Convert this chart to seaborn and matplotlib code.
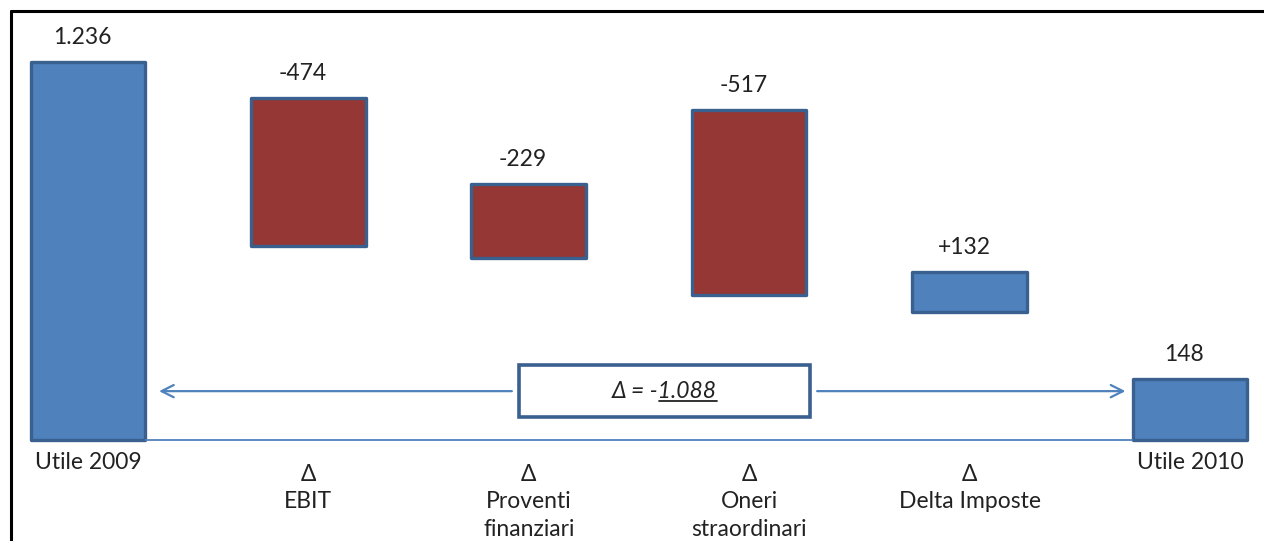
import matplotlib.pyplot as plt
import pandas as pd
import seaborn as sns
from matplotlib.patches import Rectangle
from matplotlib.lines import Line2D

# Data
categories = ['Utile 2009', 'EBIT', 'Proventi finanziari', 'Oneri straordinari',
              'Delta Imposte', 'Utile 2010']
tick_labels = ['Utile 2009', '\u0394\nEBIT', '\u0394\nProventi\nfinanziari',
               '\u0394\nOneri\nstraordinari', '\u0394\nDelta Imposte', 'Utile 2010']
value_labels = ['1.236', '-474', '-229', '-517', '+132', '148']
bar_low = [0, 634, 595, 474, 419, 0]
bar_high = [1236, 1118, 837, 1079, 549, 199]
bar_kind = ['total', 'neg', 'neg', 'neg', 'pos', 'total']
delta_text = '-1.088'

BLUE = '#4F81BD'
RED = '#953735'
EDGE = '#3A6090'
TXT = '#222222'
FS = 16.5
colors = {'total': BLUE, 'pos': BLUE, 'neg': RED}

df = pd.DataFrame({'cat': categories,
                   'height': [h - l for h, l in zip(bar_high, bar_low)],
                   'low': bar_low})

sns.set_style('white')
plt.rcParams['font.family'] = ['Lato', 'DejaVu Sans']

fig = plt.figure(figsize=(12.64, 5.41), dpi=100)
ax = fig.add_axes([0, 0, 1, 1])

bw = 0.52
sns.barplot(data=df, x='cat', y='height', bottom=df['low'], color=BLUE,
            width=bw, errorbar=None, ax=ax,
            edgecolor=EDGE, linewidth=2.4, joinstyle='round')
for patch, kind in zip(ax.patches, bar_kind):
    patch.set_facecolor(colors[kind])
    patch.set_edgecolor(EDGE)

ax.set_xlim(-0.399, 5.336)
ax.set_ylim(-330, 1439)
ax.axis('off')

# base line between first and last bar
ax.hlines(0, 0 + bw / 2, 5 - bw / 2, color=BLUE, lw=1.3, zorder=1)

# value labels
for i, (lab, top) in enumerate(zip(value_labels, bar_high)):
    ax.annotate(lab, xy=(i, top), xytext=(-4, 18), textcoords='offset points',
                ha='center', va='center', fontsize=FS, color=TXT)

# category labels
for i, lab in enumerate(tick_labels):
    if lab.startswith('Utile'):
        ax.annotate(lab, xy=(i, 0), xytext=(0, -16), textcoords='offset points',
                    ha='center', va='center', fontsize=FS, color=TXT)
    else:
        ax.annotate(lab, xy=(i, 0), xytext=(0, -17), textcoords='offset points',
                    ha='center', va='top', fontsize=FS, color=TXT,
                    linespacing=1.4)

# delta box with arrows
arrow_y = 160
box_l, box_r = 1.956, 3.276
ax.add_patch(Rectangle((box_l, 75), box_r - box_l, 170, facecolor='white',
                       edgecolor=EDGE, lw=2.6, zorder=3))
ax.annotate('', xy=(bw / 2 + 0.05, arrow_y), xytext=(box_l - 0.02, arrow_y),
            arrowprops=dict(arrowstyle='->', color=BLUE, lw=1.6,
                            mutation_scale=22))
ax.annotate('', xy=(5 - bw / 2 - 0.02, arrow_y), xytext=(box_r + 0.02, arrow_y),
            arrowprops=dict(arrowstyle='->', color=BLUE, lw=1.6,
                            mutation_scale=22))
cx = (box_l + box_r) / 2
txt = ax.text(cx, arrow_y, '\u0394 = ' + delta_text, ha='center', va='center',
              fontsize=FS, style='italic', color=TXT, zorder=4)

# underline the number part
fig.canvas.draw()
r = fig.canvas.get_renderer()
full = txt.get_window_extent(r)
tmp = ax.text(0, 0, delta_text[1:], fontsize=FS, style='italic')
w = tmp.get_window_extent(r).width
tmp.remove()
inv = fig.transFigure.inverted()
x1 = inv.transform((full.x1 - w, 0))[0]
x2 = inv.transform((full.x1, 0))[0]
yy = inv.transform((0, full.y0 + 1))[1]
fig.add_artist(Line2D([x1, x2], [yy, yy], color=TXT, lw=1.3))

# outer frame (left and top only, as in the picture)
fig.add_artist(Line2D([11 / 1264, 11 / 1264], [0, 1 - 11 / 541], color='black', lw=2.2))
fig.add_artist(Line2D([11 / 1264, 1], [1 - 11 / 541, 1 - 11 / 541], color='black', lw=2.2))

fig.savefig('out.png', dpi=100)
